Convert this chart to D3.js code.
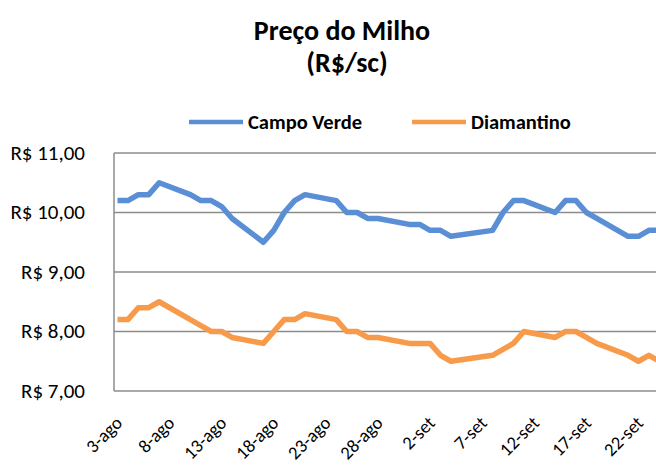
<!DOCTYPE html>
<html>
<head>
<meta charset="utf-8">
<script src="https://cdn.jsdelivr.net/npm/d3@7"></script>
<style>
  body { margin: 0; background: #fff; }
  svg text { font-family: Carlito, "Open Sans", "Liberation Sans", sans-serif; fill: #000; }
</style>
</head>
<body>
<svg id="chart" width="656" height="466"></svg>
<script>
// weekday quotes, aug-sep 2015 (no 7-set, holiday)
var dates = [
    '2015-08-03', '2015-08-04', '2015-08-05', '2015-08-06', '2015-08-07',
    '2015-08-10', '2015-08-11', '2015-08-12', '2015-08-13', '2015-08-14',
    '2015-08-17', '2015-08-18', '2015-08-19', '2015-08-20', '2015-08-21',
    '2015-08-24', '2015-08-25', '2015-08-26', '2015-08-27', '2015-08-28',
    '2015-08-31', '2015-09-01', '2015-09-02', '2015-09-03', '2015-09-04',
    '2015-09-08', '2015-09-09', '2015-09-10', '2015-09-11',
    '2015-09-14', '2015-09-15', '2015-09-16', '2015-09-17', '2015-09-18',
    '2015-09-21', '2015-09-22', '2015-09-23', '2015-09-24'
];
var campoVerde = [
    10.2, 10.2, 10.3, 10.3, 10.5,
    10.3, 10.2, 10.2, 10.1, 9.9,
    9.5, 9.7, 10.0, 10.2, 10.3,
    10.2, 10.0, 10.0, 9.9, 9.9,
    9.8, 9.8, 9.7, 9.7, 9.6,
    9.7, 10.0, 10.2, 10.2,
    10.0, 10.2, 10.2, 10.0, 9.9,
    9.6, 9.6, 9.7, 9.7
];
var diamantino = [
    8.2, 8.2, 8.4, 8.4, 8.5,
    8.2, 8.1, 8.0, 8.0, 7.9,
    7.8, 8.0, 8.2, 8.2, 8.3,
    8.2, 8.0, 8.0, 7.9, 7.9,
    7.8, 7.8, 7.8, 7.6, 7.5,
    7.6, 7.7, 7.8, 8.0,
    7.9, 8.0, 8.0, 7.9, 7.8,
    7.6, 7.5, 7.6, 7.5
];
var yTicks = [7, 8, 9, 10, 11];
var xTickLabels = ['3-ago', '8-ago', '13-ago', '18-ago', '23-ago', '28-ago',
    '2-set', '7-set', '12-set', '17-set', '22-set'];

var seriesNames = ['Campo Verde', 'Diamantino'];
var colors = ['#5a8fd6', '#f79a4a'];

var svg = d3.select('#chart');
var parse = d3.timeParse('%Y-%m-%d');
var hour = 3600 * 1000;

var plotLeft = 114, plotTop = 153, plotBottom = 391;

var x = d3.scaleTime()
    .domain([new Date(parse('2015-08-03') - 8 * hour), new Date(parse('2015-09-25') - 8 * hour)])
    .range([plotLeft, plotLeft + 53 * 10.42]);

var y = d3.scaleLinear().domain([7, 11]).range([plotBottom, plotTop]);

// gridlines
svg.append('g')
    .selectAll('line')
    .data(yTicks.slice(1))
    .enter()
    .append('line')
    .attr('x1', plotLeft)
    .attr('x2', 656)
    .attr('y1', function(d) { return y(d); })
    .attr('y2', function(d) { return y(d); })
    .attr('stroke', '#8c8c8c')
    .attr('stroke-width', 1.5);

// axis lines
svg.append('line')
    .attr('x1', plotLeft).attr('x2', plotLeft)
    .attr('y1', plotTop).attr('y2', plotBottom)
    .attr('stroke', '#8c8c8c').attr('stroke-width', 1.5);
svg.append('line')
    .attr('x1', plotLeft).attr('x2', 656)
    .attr('y1', plotBottom).attr('y2', plotBottom)
    .attr('stroke', '#8c8c8c').attr('stroke-width', 1.5);

var fmt = d3.format('.2f');
svg.append('g')
    .selectAll('text')
    .data(yTicks)
    .enter()
    .append('text')
    .attr('x', 85)
    .attr('y', function(d) { return y(d); })
    .attr('dy', '0.32em')
    .attr('text-anchor', 'end')
    .style('font-size', '21px')
    .text(function(d) { return 'R$ ' + fmt(d).replace('.', ','); });

// x labels every 5 days
var tickDates = d3.range(xTickLabels.length).map(function(i) {
    return d3.timeDay.offset(parse('2015-08-03'), i * 5);
});
svg.append('g')
    .selectAll('text')
    .data(tickDates)
    .enter()
    .append('text')
    .attr('text-anchor', 'end')
    .attr('transform', function(d) {
        return 'translate(' + (x(d) + 6) + ',' + 424 + ') rotate(-45)';
    })
    .style('font-size', '18.5px')
    .text(function(d, i) { return xTickLabels[i]; });

// lines
var line = d3.line()
    .x(function(d) { return x(d.date); })
    .y(function(d) { return y(d.value); });

[campoVerde, diamantino].forEach(function(values, k) {
    var pts = dates.map(function(s, i) { return { date: parse(s), value: values[i] }; });
    svg.append('path')
        .datum(pts)
        .attr('fill', 'none')
        .attr('stroke', colors[k])
        .attr('stroke-width', 5.5)
        .attr('stroke-linejoin', 'round')
        .attr('d', line);
});

// title
svg.append('text')
    .attr('x', 342).attr('y', 40)
    .attr('text-anchor', 'middle')
    .style('font-size', '28px').style('font-weight', 'bold')
    .text('Preço do Milho');
svg.append('text')
    .attr('x', 347).attr('y', 72)
    .attr('text-anchor', 'middle')
    .style('font-size', '28px').style('font-weight', 'bold')
    .text('(R$/sc)');

// legend
var legendX = [189, 412];
seriesNames.forEach(function(name, k) {
    svg.append('line')
        .attr('x1', legendX[k]).attr('x2', legendX[k] + 54)
        .attr('y1', 122).attr('y2', 122)
        .attr('stroke', colors[k]).attr('stroke-width', 4.5);
    svg.append('text')
        .attr('x', legendX[k] + 59).attr('y', 122)
        .attr('dy', '0.32em')
        .style('font-size', '20.5px').style('font-weight', 'bold')
        .text(name);
});
</script>
</body>
</html>
